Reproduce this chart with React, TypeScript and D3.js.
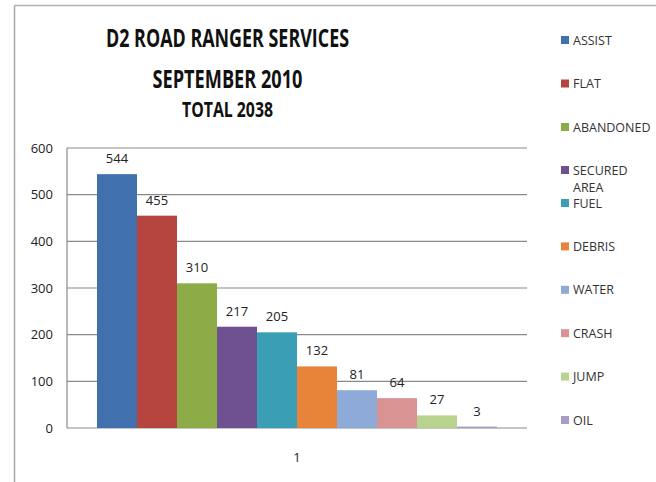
import React from "react";
import * as d3 from "d3";

const categories = ["1"];
const seriesNames = ["ASSIST", "FLAT", "ABANDONED", "SECURED AREA", "FUEL", "DEBRIS", "WATER", "CRASH", "JUMP", "OIL"];
const seriesValues = [544, 455, 310, 217, 205, 132, 81, 64, 27, 3];
const seriesColors = ["#4071AE", "#B6453F", "#8DAB47", "#6E5091", "#3A9EB5", "#E8843A", "#8EAAD8", "#D99393", "#B9D38F", "#A99BC4"];
const yTicks = [0, 100, 200, 300, 400, 500, 600];
const titleLines = ["D2 ROAD RANGER SERVICES", "SEPTEMBER 2010", "TOTAL 2038"];

export default function App() {
  const W = 656, H = 482;
  const left = 67, right = 527, top = 148, bottom = 428;
  const font = "'Open Sans', 'DejaVu Sans', sans-serif";

  const y = d3.scaleLinear().domain([0, 600]).range([bottom, top]);
  const x0 = d3.scaleBand().domain(categories).range([left, right]).paddingInner(0).paddingOuter(0.075);
  const x1 = d3.scaleBand().domain(seriesNames).range([0, x0.bandwidth()]).padding(0);

  const titleSpecs = [
    { y: 47, size: 25, len: 243 },
    { y: 88, size: 25, len: 150 },
    { y: 117, size: 22, len: 91 },
  ];

  const legendY = (i: number) => {
    if (i < 3) return 40 + i * 43.5;
    if (i === 3) return 170;
    return 203 + (i - 4) * 43.4;
  };

  return (
    <svg width={W} height={H} style={{ position: "absolute", left: 0, top: 0, background: "#fff" }}>
      <rect x={0} y={0} width={W} height={H} fill="#fff" />
      {/* outer chart border */}
      <line x1={14.5} y1={5.5} x2={W} y2={5.5} stroke="#b0b0b0" strokeWidth={1.5} />
      <line x1={14.5} y1={5.5} x2={14.5} y2={H} stroke="#a8a8a8" strokeWidth={1.5} />

      {/* title */}
      {titleLines.map((t, i) => (
        <text
          key={t}
          x={227.5}
          y={titleSpecs[i].y}
          textAnchor="middle"
          fontFamily={font}
          fontWeight="bold"
          fontSize={titleSpecs[i].size}
          fill="#111"
          textLength={titleSpecs[i].len}
          lengthAdjust="spacingAndGlyphs"
        >
          {t}
        </text>
      ))}

      {/* gridlines */}
      {yTicks.map((v) => (
        <line key={v} x1={left} x2={right} y1={y(v)} y2={y(v)} stroke="#8a8a8a" strokeWidth={1.2} />
      ))}
      <line x1={left} x2={left} y1={top} y2={bottom} stroke="#8a8a8a" strokeWidth={1.2} />

      {/* y tick labels */}
      {yTicks.map((v) => (
        <text key={"t" + v} x={53} y={y(v) + 4.5} textAnchor="end" fontFamily={font} fontSize={13} fill="#222">
          {v}
        </text>
      ))}

      {/* bars */}
      {categories.map((c) => (
        <g key={c} transform={`translate(${x0(c)},0)`}>
          {seriesNames.map((s, i) => (
            <rect
              key={s}
              x={x1(s)}
              y={y(seriesValues[i])}
              width={x1.bandwidth()}
              height={y(0) - y(seriesValues[i])}
              fill={seriesColors[i]}
            />
          ))}
          {seriesNames.map((s, i) => (
            <text
              key={"l" + s}
              x={(x1(s) as number) + x1.bandwidth() / 2}
              y={y(seriesValues[i]) - 11}
              textAnchor="middle"
              fontFamily={font}
              fontSize={13}
              fill="#222"
            >
              {seriesValues[i]}
            </text>
          ))}
          <text
            x={x0.bandwidth() / 2}
            y={462}
            textAnchor="middle"
            fontFamily={font}
            fontSize={13}
            fill="#222"
          >
            {c}
          </text>
        </g>
      ))}

      {/* legend */}
      {seriesNames.map((s, i) => {
        const ly = legendY(i);
        const words = s.split(" ");
        return (
          <g key={"lg" + s}>
            <rect x={561} y={ly - 4} width={8} height={8} fill={seriesColors[i]} />
            {words.map((w, j) => (
              <text key={w} x={573} y={ly + 4.5 + j * 17.5} fontFamily={font} fontSize={12.5} fill="#333">
                {w}
              </text>
            ))}
          </g>
        );
      })}
    </svg>
  );
}
